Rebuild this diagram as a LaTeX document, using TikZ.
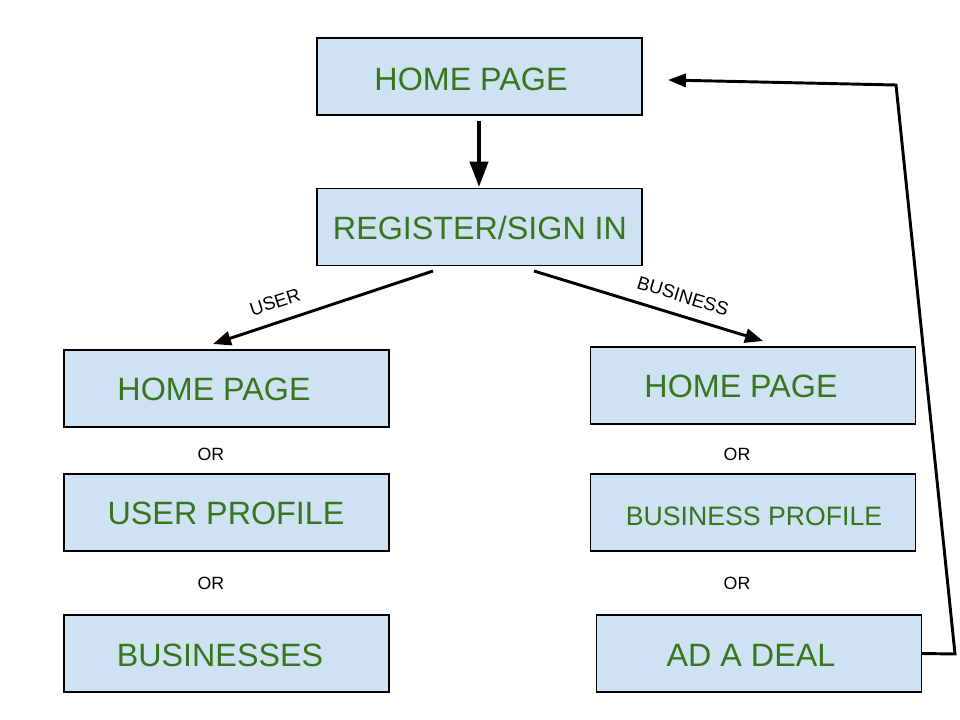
\documentclass[tikz,border=0pt]{standalone}
\usepackage{fontspec}
\setmainfont{Liberation Sans}
\usetikzlibrary{arrows.meta}
\definecolor{boxfill}{HTML}{CFE2F3}
\definecolor{boxtext}{HTML}{38761D}
\begin{document}
\begin{tikzpicture}[x=0.75pt,y=-0.75pt,
  box/.style={draw=black,line width=0.9pt,fill=boxfill,minimum width=243.75pt,minimum height=57.75pt,inner sep=0pt},
  big/.style={text=boxtext,font=\fontsize{24.2}{29}\selectfont,inner sep=0pt},
  mid/.style={text=boxtext,font=\fontsize{20}{24}\selectfont,inner sep=0pt},
  orlbl/.style={text=black,font=\fontsize{13.3}{16}\selectfont,inner sep=0pt},
  edgelbl/.style={text=black,font=\fontsize{14}{17}\selectfont,inner sep=0pt},
  thickarr/.style={line width=3pt,-{Triangle[length=19pt,width=13.5pt]}},
  arr/.style={line width=2.2pt,-{Triangle[length=13.5pt,width=10.5pt]}},
  loop/.style={line width=2.2pt,-{Triangle[length=13.5pt,width=10pt]}}]
\useasboundingbox (0,0) rectangle (960,720);
% boxes
\node[box] (hp) at (479.5,76.5) {};
\node[box] (reg) at (479.5,227) {};
\node[box] (uhp) at (226.5,388.5) {};
\node[box] (uprof) at (226.5,512.5) {};
\node[box] (ubiz) at (226.5,653.5) {};
\node[box] (bhp) at (753,385.5) {};
\node[box] (bprof) at (753,512.5) {};
\node[box] (deal) at (759,653.5) {};
% texts
\node[big] (hpt) at (471,79) {HOME PAGE};
\node[big] (regt) at (480,228) {REGISTER/SIGN IN};
\node[big] (uhpt) at (214,389) {HOME PAGE};
\node[big] (uproft) at (226,513) {USER PROFILE};
\node[big] (ubizt) at (220,655) {BUSINESSES};
\node[big] (bhpt) at (741,386) {HOME PAGE};
\node[mid] (bproft) at (754,516) {BUSINESS PROFILE};
\node[big] (dealt) at (751,655) {AD A DEAL};
\node[orlbl] (or1) at (211,454) {OR};
\node[orlbl] (or2) at (211,583) {OR};
\node[orlbl] (or3) at (737,454) {OR};
\node[orlbl] (or4) at (737,583) {OR};
\node[edgelbl,rotate=18] (userl) at (275,302) {USER};
\node[edgelbl,rotate=-17] (bizl) at (683,296) {BUSINESS};
% connector points
\coordinate (a1s) at (479,121);
\coordinate (a1e) at (479,187);
\coordinate (a2s) at (433,271);
\coordinate (a2e) at (213,344);
\coordinate (a3s) at (534,271);
\coordinate (a3e) at (763,341);
\coordinate (l1) at (955,654);
\coordinate (l2) at (896,85);
\coordinate (l3) at (668,80);
% connectors
\draw[thickarr] (a1s) -- (a1e);
\draw[arr] (a2s) -- (a2e);
\draw[arr] (a3s) -- (a3e);
\draw[loop,line join=miter] (deal.east) -- (l1) -- (l2) -- (l3);
\end{tikzpicture}
\end{document}
